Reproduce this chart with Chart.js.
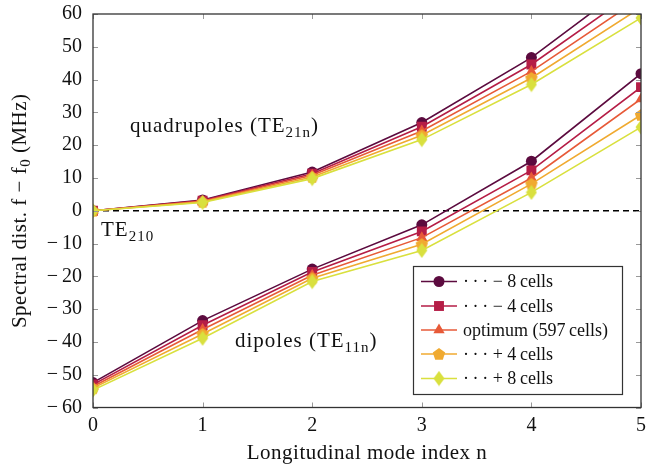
<!DOCTYPE html>
<html>
<head>
<meta charset="utf-8">
<script src="https://cdn.jsdelivr.net/npm/chart.js@4"></script>
<style>
  html, body { margin: 0; padding: 0; background: #fff; }
  #wrap { width: 652px; height: 466px; }
</style>
</head>
<body>
<div id="wrap"><canvas id="spectrumChart" width="652" height="466"></canvas></div>
<script>
  // mode index n
  const modeIndex = [0, 1, 2, 3, 4, 5];

  // quadrupoles (TE21n), spectral distance in MHz
  const quadMinus8 = [0, 3.3, 11.8, 26.9, 46.7, 71.7];
  const quadMinus4 = [0, 3.1, 11.3, 25.6, 44.6, 68.1];
  const quadOptimum = [0, 2.9, 10.8, 24.3, 42.5, 65.0];
  const quadPlus4 = [0, 2.7, 10.3, 23.0, 40.5, 62.0];
  const quadPlus8 = [0, 2.5, 9.8, 21.7, 38.5, 58.8];

  // dipoles (TE11n)
  const dipMinus8 = [-52.4, -33.5, -17.8, -4.3, 15.1, 41.8];
  const dipMinus4 = [-53.0, -34.9, -18.7, -6.3, 12.3, 37.7];
  const dipOptimum = [-53.6, -36.2, -19.7, -8.2, 10.0, 34.1];
  const dipPlus4 = [-54.1, -37.6, -20.6, -10.2, 8.2, 29.2];
  const dipPlus8 = [-54.7, -38.9, -21.6, -12.1, 5.6, 25.5];

  const seriesLabels = [
    "\u00b7\u2009\u00b7\u2009\u00b7 \u2212 8\u2009cells",
    "\u00b7\u2009\u00b7\u2009\u00b7 \u2212 4\u2009cells",
    "optimum (597\u2009cells)",
    "\u00b7\u2009\u00b7\u2009\u00b7 + 4\u2009cells",
    "\u00b7\u2009\u00b7\u2009\u00b7 + 8\u2009cells",
  ];
  const xTicks = [0, 1, 2, 3, 4, 5];
  const yTicks = [-60, -50, -40, -30, -20, -10, 0, 10, 20, 30, 40, 50, 60];

  const quadSeries = [quadMinus8, quadMinus4, quadOptimum, quadPlus4, quadPlus8];
  const dipSeries = [dipMinus8, dipMinus4, dipOptimum, dipPlus4, dipPlus8];

  const colors = ["#5c0b3f", "#b51d46", "#e75a38", "#f0aa30", "#d9e03e"];
  const FONT = "'Liberation Serif', 'DejaVu Serif', serif";

  // pentagon and diamond markers drawn on small canvases
  function makePentagon(color) {
    const c = document.createElement("canvas");
    c.width = 14; c.height = 14;
    const g = c.getContext("2d");
    g.fillStyle = color;
    g.beginPath();
    for (let k = 0; k < 5; k++) {
      const a = -Math.PI / 2 + k * 2 * Math.PI / 5;
      const px = 7 + 6.5 * Math.cos(a), py = 7.5 + 6.5 * Math.sin(a);
      if (k === 0) g.moveTo(px, py); else g.lineTo(px, py);
    }
    g.closePath();
    g.fill();
    return c;
  }
  function makeDiamond(color) {
    const c = document.createElement("canvas");
    c.width = 12; c.height = 16;
    const g = c.getContext("2d");
    g.fillStyle = color;
    g.beginPath();
    g.moveTo(6, 0.5); g.lineTo(11.5, 8); g.lineTo(6, 15.5); g.lineTo(0.5, 8);
    g.closePath();
    g.fill();
    return c;
  }

  const markers = [
    { style: "circle", radius: 5.5 },
    { style: "rect", radius: 7 },
    { style: "triangle", radius: 6.5 },
    { style: makePentagon(colors[3]), radius: 6 },
    { style: makeDiamond(colors[4]), radius: 6 },
  ];

  function toPoints(ys) {
    return modeIndex.map((n, i) => ({ x: n, y: ys[i] }));
  }

  const datasets = [];
  [quadSeries, dipSeries].forEach((group) => {
    group.forEach((ys, i) => {
      datasets.push({
        label: seriesLabels[i],
        data: toPoints(ys),
        borderColor: colors[i],
        backgroundColor: colors[i],
        borderWidth: 1.6,
        pointStyle: markers[i].style,
        pointRadius: markers[i].radius,
        pointBorderWidth: 0,
        pointHoverRadius: markers[i].radius,
        order: 10 - i,
      });
    });
  });
  // dashed zero line
  datasets.push({
    label: "zero",
    data: [{ x: 0, y: 0 }, { x: 5, y: 0 }],
    borderColor: "#000",
    borderWidth: 1.3,
    borderDash: [6, 4],
    pointRadius: 0,
    order: 20,
  });

  // text with a lowered subscript part
  function drawSub(ctx, x, y, main, sub, size, tail) {
    ctx.font = size + "px " + FONT;
    ctx.fillText(main, x, y);
    let w = ctx.measureText(main).width;
    ctx.font = Math.round(size * 0.72) + "px " + FONT;
    ctx.fillText(sub, x + w, y + size * 0.25);
    w += ctx.measureText(sub).width;
    if (tail) {
      ctx.font = size + "px " + FONT;
      ctx.fillText(tail, x + w, y);
    }
  }

  const framePlugin = {
    id: "frame",
    afterDraw(chart) {
      const ctx = chart.ctx;
      const a = chart.chartArea;
      const xs = chart.scales.x, ys = chart.scales.y;
      ctx.save();
      // inward ticks
      ctx.strokeStyle = "#999";
      ctx.lineWidth = 1;
      ctx.beginPath();
      xTicks.forEach((t) => {
        const px = Math.round(xs.getPixelForValue(t)) + 0.5;
        ctx.moveTo(px, a.bottom); ctx.lineTo(px, a.bottom - 5);
        ctx.moveTo(px, a.top); ctx.lineTo(px, a.top + 5);
      });
      yTicks.forEach((t) => {
        const py = Math.round(ys.getPixelForValue(t)) + 0.5;
        ctx.moveTo(a.left, py); ctx.lineTo(a.left + 5, py);
        ctx.moveTo(a.right, py); ctx.lineTo(a.right - 5, py);
      });
      ctx.stroke();
      // frame
      ctx.strokeStyle = "#333";
      ctx.lineWidth = 1.3;
      ctx.strokeRect(a.left, a.top, a.right - a.left, a.bottom - a.top);

      // annotations
      ctx.fillStyle = "#111";
      ctx.textBaseline = "alphabetic";
      ctx.textAlign = "left";
      ctx.letterSpacing = "1px";
      drawSub(ctx, 130, 132, "quadrupoles (TE", "21n", 21, ")");
      drawSub(ctx, 235, 347, "dipoles (TE", "11n", 21, ")");
      drawSub(ctx, 101, 236, "TE", "210", 21);

      // axis titles
      ctx.letterSpacing = "0.5px";
      ctx.textAlign = "center";
      ctx.font = "21px " + FONT;
      ctx.fillText("Longitudinal mode index n", (a.left + a.right) / 2, 459);
      ctx.translate(26, (a.top + a.bottom) / 2);
      ctx.rotate(-Math.PI / 2);
      ctx.textAlign = "left";
      const t1 = "Spectral dist. f \u2212 f", t2 = "0", t3 = " (MHz)";
      ctx.font = "21px " + FONT;
      const w1 = ctx.measureText(t1).width;
      const w3 = ctx.measureText(t3).width;
      ctx.font = "15px " + FONT;
      const w2 = ctx.measureText(t2).width;
      let x0 = -(w1 + w2 + w3) / 2;
      ctx.font = "21px " + FONT;
      ctx.fillText(t1, x0, 0);
      ctx.font = "15px " + FONT;
      ctx.fillText(t2, x0 + w1, 4);
      ctx.font = "21px " + FONT;
      ctx.fillText(t3, x0 + w1 + w2, 0);
      ctx.restore();

      // legend
      ctx.save();
      const lx = 413, ly = 266, lw = 209, lh = 128;
      ctx.fillStyle = "#fff";
      ctx.fillRect(lx, ly, lw, lh);
      ctx.strokeStyle = "#333";
      ctx.lineWidth = 1.2;
      ctx.strokeRect(lx + 0.5, ly + 0.5, lw, lh);
      const rowY = [281.5, 306, 330, 354, 378.5];
      seriesLabels.forEach((lab, i) => {
        const y = rowY[i];
        ctx.strokeStyle = colors[i];
        ctx.lineWidth = 1.6;
        ctx.beginPath();
        ctx.moveTo(421, y); ctx.lineTo(457, y);
        ctx.stroke();
        ctx.fillStyle = colors[i];
        Chart.helpers.drawPoint(ctx, {
          pointStyle: markers[i].style,
          radius: markers[i].radius,
          rotation: 0,
          borderWidth: 0,
        }, 439, y);
        ctx.fillStyle = "#111";
        ctx.font = "18px " + FONT;
        ctx.textAlign = "left";
        ctx.textBaseline = "middle";
        ctx.fillText(lab, 463, y + 1);
      });
      ctx.restore();
    },
  };

  const canvas = document.getElementById("spectrumChart");
  new Chart(canvas.getContext("2d"), {
    type: "line",
    data: { datasets: datasets },
    options: {
      responsive: false,
      animation: false,
      layout: { padding: { top: 14, right: 11, left: 0, bottom: 0 } },
      plugins: { legend: { display: false }, tooltip: { enabled: false } },
      scales: {
        x: {
          type: "linear",
          min: 0,
          max: 5,
          afterBuildTicks: (s) => { s.ticks = xTicks.map((v) => ({ value: v })); },
          afterFit: (s) => { s.height = 58.5; s.paddingLeft = 0; s.paddingRight = 0; },
          grid: { display: false, drawTicks: false },
          border: { display: false },
          ticks: { color: "#111", font: { family: FONT, size: 20 }, padding: 6 },
        },
        y: {
          type: "linear",
          min: -60,
          max: 60,
          afterBuildTicks: (s) => { s.ticks = yTicks.map((v) => ({ value: v })); },
          afterFit: (s) => { s.width = 93; s.paddingTop = 0; s.paddingBottom = 0; },
          grid: { display: false, drawTicks: false },
          border: { display: false },
          ticks: {
            color: "#111",
            font: { family: FONT, size: 20 },
            padding: 11,
            callback: (v) => String(v).replace("-", "\u2212\u2009"),
          },
        },
      },
    },
    plugins: [framePlugin],
  });
</script>
</body>
</html>
